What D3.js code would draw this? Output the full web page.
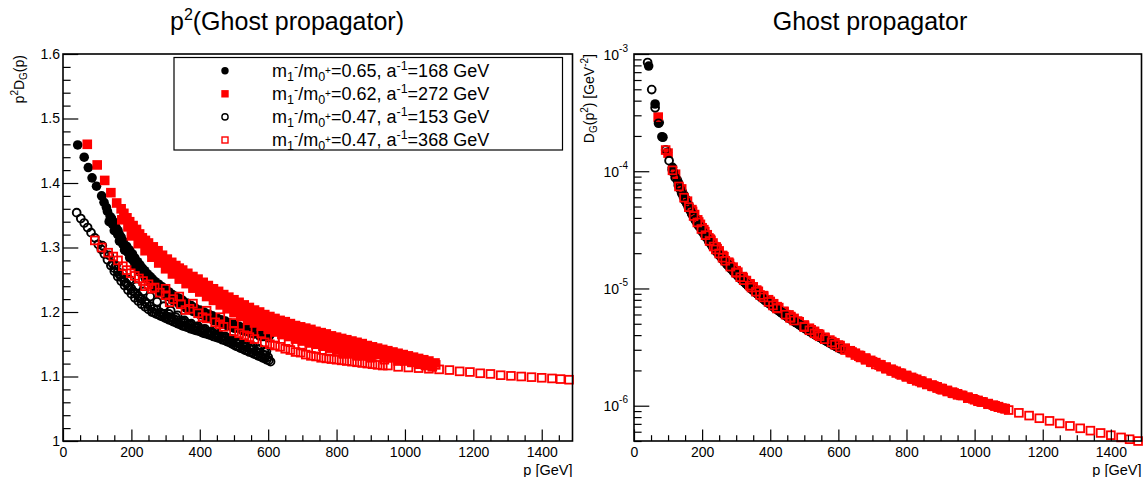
<!DOCTYPE html>
<html><head><meta charset="utf-8">
<script src="https://cdn.jsdelivr.net/npm/d3@7"></script>
<style>
body{margin:0;background:#fff}
text{font-family:"Liberation Sans",Arial,Helvetica,sans-serif;fill:#000}
</style></head>
<body><svg id="chart" width="1147" height="477"></svg>
<script>
// ---------------- data (p [GeV], p^2 D_G(p)) ----------------
const legendLabels = [
  {m1:"1", m0:"0", ratio:"0.65", ainv:"168"},
  {m1:"1", m0:"0", ratio:"0.62", ainv:"272"},
  {m1:"1", m0:"0", ratio:"0.47", ainv:"153"},
  {m1:"1", m0:"0", ratio:"0.47", ainv:"368"}
];
const titleLeft = "(Ghost propagator)";
const titleRight = "Ghost propagator";
const xTicks = [0,200,400,600,800,1000,1200,1400];
const yTicksLin = [1,1.1,1.2,1.3,1.4,1.5,1.6];
const yTicksLog = [1e-6,1e-5,1e-4,1e-3];

// black filled circles: m1/m0=0.65, a^-1=168 GeV
const blackFilled = [
 [43,1.459],[62,1.440],[74,1.424],[85,1.408],[98,1.395],[113,1.380],[127,1.362],[142,1.345],[152,1.335],[161,1.326],
 [170,1.316],[176,1.310],[186,1.302],[195,1.296],[203,1.290],[210,1.284],[218,1.278],[225,1.273],[232,1.268],[239,1.264],
 [247,1.259],[255,1.255],[262,1.251],[270,1.247],[280,1.243],[290,1.239],[300,1.235],[310,1.231],[320,1.227],[330,1.224],
 [340,1.221],[350,1.218],[362,1.214],[375,1.210],[387,1.206],[400,1.203],[412,1.200],[425,1.197],[437,1.194],[450,1.191],
 [462,1.188],[475,1.186],[487,1.183],[500,1.181],[515,1.178],[530,1.176],[545,1.173],[560,1.171],[575,1.168],[590,1.166],[605,1.164],
 [135,1.340],[150,1.326],[165,1.310],[180,1.296],[195,1.284],[210,1.272],[225,1.262],[240,1.253],[255,1.245],[270,1.237],
 [285,1.231],[300,1.225],[320,1.218],[340,1.212],[360,1.206],[380,1.201],[400,1.196],[420,1.192],[440,1.187],[460,1.183],
 [480,1.179],[500,1.175],[525,1.171],[550,1.167],[575,1.163],[600,1.160],
 [145,1.336],[160,1.320],[175,1.305],[190,1.292],[205,1.280],[220,1.268],[235,1.259],[250,1.251],[265,1.243],[280,1.236],
 [295,1.230],[310,1.224],[330,1.217],[350,1.211],[370,1.205],[390,1.200],[410,1.195],[430,1.190],[450,1.186],[470,1.182],
 [490,1.178],[510,1.175],[535,1.170],[560,1.166],[585,1.162],
 [120,1.370],[130,1.356],[138,1.348],[147,1.340],[156,1.330],[165,1.320],[182,1.300],[190,1.294],[200,1.286],[215,1.276],
 [228,1.266],[243,1.258]
];
// red filled squares: m1/m0=0.62, a^-1=272 GeV
const redFilled = [
 [71,1.460],[100,1.428],[122,1.404],[140,1.385],[157,1.369],[170,1.360],[178,1.353],[187,1.346],[195,1.340],[205,1.334],
 [215,1.328],[224,1.321],[232,1.315],[241,1.311],[250,1.307],[264,1.301],[278,1.295],[291,1.288],[305,1.282],[318,1.277],
 [330,1.272],[340,1.268],[350,1.265],[365,1.260],[380,1.255],[395,1.251],[410,1.246],[425,1.241],[440,1.236],[455,1.232],
 [470,1.227],[485,1.223],[500,1.219],[515,1.215],[530,1.211],[545,1.207],[560,1.203],[575,1.200],[590,1.196],[605,1.193],
 [620,1.190],[635,1.187],[650,1.185],[665,1.182],[680,1.179],[695,1.177],[710,1.175],[725,1.173],[740,1.170],[755,1.168],
 [770,1.166],[785,1.163],[800,1.161],[815,1.159],[830,1.157],[845,1.155],[860,1.153],[875,1.151],[890,1.148],[905,1.146],
 [920,1.144],[935,1.142],[950,1.140],[965,1.138],[980,1.136],[995,1.134],[1010,1.132],[1025,1.130],[1040,1.128],[1055,1.126],
 [1070,1.124],[1088,1.121],
 [172,1.343],[190,1.332],[208,1.322],[226,1.312],[244,1.302],[260,1.293],[280,1.285],[300,1.277],[320,1.269],[340,1.261],
 [360,1.254],[380,1.247],[400,1.241],[420,1.234],[440,1.227],[460,1.220],[480,1.213],[500,1.207],[520,1.201],[540,1.196],
 [560,1.191],[580,1.187],[600,1.183],[620,1.179],[640,1.175],[660,1.171],[680,1.168],[700,1.164],[720,1.161],[740,1.158],
 [760,1.155],[780,1.152],[800,1.149],[820,1.147],[840,1.144],[860,1.141],[880,1.139],[900,1.136],[920,1.134],[940,1.131],
 [960,1.129],[980,1.126],[1000,1.124],[1020,1.122],[1040,1.119],[1060,1.117],[1080,1.115],
 [200,1.318],[220,1.306],[240,1.295],[260,1.285],[280,1.276],[300,1.267],[320,1.259],[340,1.251],[360,1.244],[380,1.237],
 [400,1.231],[420,1.224],[440,1.218],[460,1.211],[480,1.205],[500,1.199],[520,1.193],[540,1.188],[560,1.183],[580,1.178],
 [600,1.173],[620,1.169],[640,1.165],[660,1.162],[680,1.158],[700,1.155],[720,1.152],[740,1.150],[760,1.147],[780,1.144],
 [800,1.141],[820,1.139],[840,1.136],[860,1.134],[880,1.132],[900,1.130]
];
// black open circles: m1/m0=0.47, a^-1=153 GeV
const blackOpen = [
 [40,1.354],[52,1.345],[62,1.338],[72,1.331],[82,1.323],[93,1.315],[103,1.305],[112,1.297],[121,1.290],[130,1.281],
 [140,1.272],[150,1.263],[160,1.255],[170,1.248],[180,1.241],[190,1.234],[200,1.228],[210,1.222],[220,1.217],[230,1.212],
 [240,1.208],[250,1.204],[260,1.200],[272,1.197],[285,1.194],[298,1.191],[310,1.188],[322,1.185],[335,1.182],[348,1.179],
 [360,1.177],[373,1.174],[386,1.172],[400,1.170],[413,1.167],[426,1.165],[440,1.162],[453,1.160],[466,1.157],[480,1.154],
 [493,1.151],[506,1.147],[519,1.144],[532,1.141],[545,1.138],[558,1.135],[571,1.132],[584,1.129],[596,1.126],[607,1.123],
 [115,1.303],[135,1.288],[155,1.272],[175,1.260],[195,1.250],[215,1.240],[235,1.232],[255,1.224],[275,1.216],[295,1.209],
 [315,1.202],[335,1.195],[355,1.187],[375,1.182],[395,1.178],[415,1.174],[435,1.170],[455,1.166],[475,1.162],[495,1.158],
 [515,1.154],[535,1.150],[555,1.147],[575,1.143],[595,1.139],
 [145,1.275],[165,1.258],[185,1.244],[205,1.232],[225,1.221],[245,1.213],[265,1.205],[285,1.199],[305,1.193],[325,1.189],
 [345,1.184],[365,1.180],[385,1.176],[405,1.172],[425,1.168],[445,1.165],[465,1.161],[485,1.157],[505,1.153],[525,1.148],
 [545,1.144],[565,1.139],[585,1.134],[600,1.130],
 [150,1.268],[160,1.262],[170,1.254],[180,1.247],[190,1.241],[200,1.236],[210,1.230],[220,1.225],[230,1.220],[240,1.216],
 [266,1.199],[279,1.196],[291,1.193],[304,1.190],[316,1.187],[329,1.184],[342,1.181],[354,1.178],[367,1.176],[380,1.173],
 [393,1.171],[407,1.168],[420,1.166],[433,1.164],[447,1.161],[460,1.159],[473,1.156],[487,1.153],[500,1.149],[513,1.146],
 [526,1.143],[539,1.140],[552,1.137],[565,1.134],[578,1.131],[590,1.128],[602,1.125],
 [255,1.209],[275,1.203],[295,1.197],[315,1.192],[335,1.187],[355,1.183],[375,1.179],[395,1.175],[415,1.171],[435,1.167],
 [455,1.163],[475,1.159],[495,1.155],[515,1.151],[535,1.146],[555,1.142],[575,1.137],[592,1.133],
 [310,1.197],[330,1.192],[350,1.186],[370,1.181],[390,1.177],[410,1.173],[430,1.169],[450,1.165],[470,1.162],[490,1.158],
 [510,1.154],[530,1.150],[550,1.146],[570,1.142],[590,1.138]
];
// red open squares: m1/m0=0.47, a^-1=368 GeV
const redOpen = [
 [93,1.311],[113,1.300],[132,1.292],[147,1.286],[161,1.280],[175,1.271],[186,1.265],[198,1.260],[210,1.256],[222,1.252],
 [234,1.248],[250,1.243],[268,1.238],[283,1.230],[300,1.226],[322,1.220],[345,1.212],[370,1.205],[395,1.198],[420,1.190],
 [445,1.184],[470,1.177],[500,1.170],[530,1.164],[560,1.158],[590,1.153],[620,1.148],[650,1.143],[680,1.138],[710,1.134],
 [740,1.131],[770,1.128],[800,1.126],[830,1.124],[860,1.122],[890,1.120],[920,1.118],[950,1.117],[980,1.115],[1010,1.114],
 [1040,1.113],[1070,1.112],[1100,1.111],[1130,1.110],[1160,1.108],[1190,1.107],[1220,1.105],[1250,1.104],[1280,1.102],[1310,1.101],
 [1340,1.100],[1370,1.099],[1400,1.098],[1430,1.097],[1455,1.096],[1480,1.095],
 [300,1.236],[340,1.224],[380,1.213],[420,1.202],[460,1.192],[500,1.183],[540,1.175],[580,1.167],[620,1.160],[660,1.154],
 [700,1.148],[740,1.143],[780,1.139],[820,1.135],[860,1.132],[900,1.129],[940,1.126],[980,1.124],[1020,1.122],[1060,1.120],[1090,1.118],
 [240,1.240],[260,1.236],[312,1.215],[358,1.203],[408,1.192],[458,1.181],[515,1.167],[545,1.161],[605,1.150],[635,1.146],
 [665,1.141],[695,1.137],[725,1.132],[755,1.129],[785,1.127],[815,1.125],[845,1.123],[875,1.121],[905,1.119],[935,1.117]
];

// ---------------- drawing ----------------
const svg = d3.select("#chart");
const F = "Liberation Sans, Arial, sans-serif";

const L = {x0:63, x1:572.5, y0:54, y1:441};
const R = {x0:634, x1:1141.5, y0:54, y1:441};

const xL = d3.scaleLinear().domain([0,1490]).range([L.x0,L.x1]);
const yL = d3.scaleLinear().domain([1,1.6]).range([L.y1,L.y0]);
const xR = d3.scaleLinear().domain([0,1490]).range([R.x0,R.x1]);
const yR = d3.scaleLog().domain([5e-7,1e-3]).range([R.y1,R.y0]);

const styles = [
  {data:blackFilled, shape:"circle", fill:"#000", stroke:"none"},
  {data:redFilled,   shape:"square", fill:"#ff0000", stroke:"none"},
  {data:blackOpen,   shape:"circle", fill:"none", stroke:"#000"},
  {data:redOpen,     shape:"square", fill:"none", stroke:"#ff0000"}
];

function drawMarkers(g, st, xs, ys, yval){
  const sel = g.append("g");
  st.data.forEach(d=>{
    const cx = xs(d[0]), cy = ys(yval(d));
    if(st.shape==="circle"){
      if(st.fill!=="none") sel.append("circle").attr("cx",cx).attr("cy",cy).attr("r",4.8).attr("fill",st.fill);
      else sel.append("circle").attr("cx",cx).attr("cy",cy).attr("r",3.9).attr("fill","none").attr("stroke",st.stroke).attr("stroke-width",1.9);
    } else {
      if(st.fill!=="none") sel.append("rect").attr("x",cx-4.8).attr("y",cy-4.8).attr("width",9.6).attr("height",9.6).attr("fill",st.fill);
      else sel.append("rect").attr("x",cx-3.9).attr("y",cy-3.9).attr("width",7.8).attr("height",7.8).attr("fill","none").attr("stroke",st.stroke).attr("stroke-width",1.8);
    }
  });
}

function xAxis(P, xs){
  const g = svg.append("g").attr("transform",`translate(0,${P.y1})`);
  g.call(d3.axisBottom(xs).tickValues(xTicks).tickSize(-11.6).tickPadding(6).tickFormat(d3.format("d")));
  const minorVals = d3.range(0,1490,50).filter(v=>v%200!==0);
  const g2 = svg.append("g").attr("transform",`translate(0,${P.y1})`);
  g2.call(d3.axisBottom(xs).tickValues(minorVals).tickSize(-5.8).tickFormat(""));
  [g,g2].forEach(a=>{a.select(".domain").remove(); a.selectAll("line").attr("stroke","#000").attr("stroke-width",1.2);});
  g.selectAll("text").attr("font-size",14).attr("font-family",F).attr("fill","#000");
}

// ---- left panel ----
styles.forEach(st=>drawMarkers(svg, st, xL, yL, d=>d[1]));
xAxis(L, xL);
{
  const g = svg.append("g").attr("transform",`translate(${L.x0},0)`);
  g.call(d3.axisLeft(yL).tickValues(yTicksLin).tickSize(-15.3).tickPadding(3).tickFormat(d=>d===1?"1":d.toFixed(1)));
  const minor = d3.range(1.02,1.6,0.02).filter(v=>Math.abs(v*10-Math.round(v*10))>1e-6);
  const g2 = svg.append("g").attr("transform",`translate(${L.x0},0)`);
  g2.call(d3.axisLeft(yL).tickValues(minor).tickSize(-7.6).tickFormat(""));
  [g,g2].forEach(a=>{a.select(".domain").remove(); a.selectAll("line").attr("stroke","#000").attr("stroke-width",1.2);});
  g.selectAll("text").attr("font-size",14).attr("font-family",F).attr("fill","#000");
}
svg.append("rect").attr("x",L.x0).attr("y",L.y0).attr("width",L.x1-L.x0).attr("height",L.y1-L.y0)
   .attr("fill","none").attr("stroke","#000").attr("stroke-width",1.6);

// ---- right panel ----
styles.forEach(st=>drawMarkers(svg, st, xR, yR, d=>d[1]/(d[0]*d[0])));
xAxis(R, xR);
{
  const g = svg.append("g").attr("transform",`translate(${R.x0},0)`);
  g.call(d3.axisLeft(yR).tickValues(yTicksLog).tickSize(-15.3).tickFormat(""));
  const minor = [];
  [-7,-6,-5,-4].forEach(e=>{for(let k=2;k<=9;k++){const v=k*Math.pow(10,e); if(v>=5e-7&&v<=1e-3) minor.push(v);}});
  const g2 = svg.append("g").attr("transform",`translate(${R.x0},0)`);
  g2.call(d3.axisLeft(yR).tickValues(minor).tickSize(-7.6).tickFormat(""));
  [g,g2].forEach(a=>{a.select(".domain").remove(); a.selectAll("line").attr("stroke","#000").attr("stroke-width",1.2);});
  yTicksLog.forEach(v=>{
    const t = svg.append("text").attr("x",R.x0-6).attr("y",yR(v)+5.5).attr("text-anchor","end")
      .attr("font-size",14).attr("font-family",F);
    t.append("tspan").text("10");
    t.append("tspan").attr("font-size",10).attr("dy",-8).text(String(Math.round(Math.log10(v))));
  });
}
svg.append("rect").attr("x",R.x0).attr("y",R.y0).attr("width",R.x1-R.x0).attr("height",R.y1-R.y0)
   .attr("fill","none").attr("stroke","#000").attr("stroke-width",1.6);

// ---- axis titles ----
[[L,"p [GeV]"],[R,"p [GeV]"]].forEach(([P,t])=>{
  svg.append("text").attr("x",P.x1).attr("y",474.5).attr("text-anchor","end").attr("font-size",14.5).attr("font-family",F).text(t);
});
{
  const t = svg.append("text").attr("transform","translate(24,55) rotate(-90)").attr("text-anchor","end")
    .attr("font-size",14).attr("font-family",F);
  t.append("tspan").text("p");
  t.append("tspan").attr("font-size",10).attr("dy",-6).text("2");
  t.append("tspan").attr("dy",6).text("D");
  t.append("tspan").attr("font-size",10).attr("dy",3).text("G");
  t.append("tspan").attr("dy",-3).text("(p)");
}
{
  const t = svg.append("text").attr("transform","translate(594,54) rotate(-90)").attr("text-anchor","end")
    .attr("font-size",14).attr("font-family",F);
  t.append("tspan").text("D");
  t.append("tspan").attr("font-size",10).attr("dy",3).text("G");
  t.append("tspan").attr("dy",-3).text("(p");
  t.append("tspan").attr("font-size",10).attr("dy",-6).text("2");
  t.append("tspan").attr("dy",6).text(") [GeV");
  t.append("tspan").attr("font-size",10).attr("dy",-6).text("-2");
  t.append("tspan").attr("dy",6).text("]");
}

// ---- titles ----
{
  const t = svg.append("text").attr("x",287).attr("y",30).attr("text-anchor","middle").attr("font-size",25).attr("font-family",F);
  t.append("tspan").text("p");
  t.append("tspan").attr("font-size",16).attr("dy",-10).text("2");
  t.append("tspan").attr("dy",10).text(titleLeft);
  svg.append("text").attr("x",870).attr("y",30).attr("text-anchor","middle").attr("font-size",25).attr("font-family",F).text(titleRight);
}

// ---- legend ----
{
  const lg = svg.append("g");
  lg.append("rect").attr("x",174).attr("y",57.5).attr("width",388.5).attr("height",92.5)
    .attr("fill","#fff").attr("stroke","#000").attr("stroke-width",1.2);
  const rowY = d3.scalePoint().domain(d3.range(legendLabels.length)).range([70.7,140]);
  legendLabels.forEach((lab,i)=>{
    const y = rowY(i), st = styles[i];
    if(st.shape==="circle"){
      if(st.fill!=="none") lg.append("circle").attr("cx",225).attr("cy",y).attr("r",3.7).attr("fill",st.fill);
      else lg.append("circle").attr("cx",225).attr("cy",y).attr("r",3.1).attr("fill","none").attr("stroke",st.stroke).attr("stroke-width",1.4);
    } else {
      if(st.fill!=="none") lg.append("rect").attr("x",221.3).attr("y",y-3.7).attr("width",7.4).attr("height",7.4).attr("fill",st.fill);
      else lg.append("rect").attr("x",222).attr("y",y-3).attr("width",6).attr("height",6).attr("fill","none").attr("stroke",st.stroke).attr("stroke-width",1.4);
    }
    const t = lg.append("text").attr("x",272).attr("y",y+5.8).attr("font-size",18).attr("font-family",F);
    t.append("tspan").text("m");
    t.append("tspan").attr("font-size",12.5).attr("dy",4).text(lab.m1);
    t.append("tspan").attr("font-size",12.5).attr("dy",-10).text("-");
    t.append("tspan").attr("dy",6).text("/m");
    t.append("tspan").attr("font-size",12.5).attr("dy",4).text(lab.m0);
    t.append("tspan").attr("font-size",10).attr("dy",-7).text("+");
    t.append("tspan").attr("dy",3).text("="+lab.ratio+", a");
    t.append("tspan").attr("font-size",12.5).attr("dy",-7).text("-1");
    t.append("tspan").attr("dy",7).text("="+lab.ainv+" GeV");
  });
}
</script></body></html>
